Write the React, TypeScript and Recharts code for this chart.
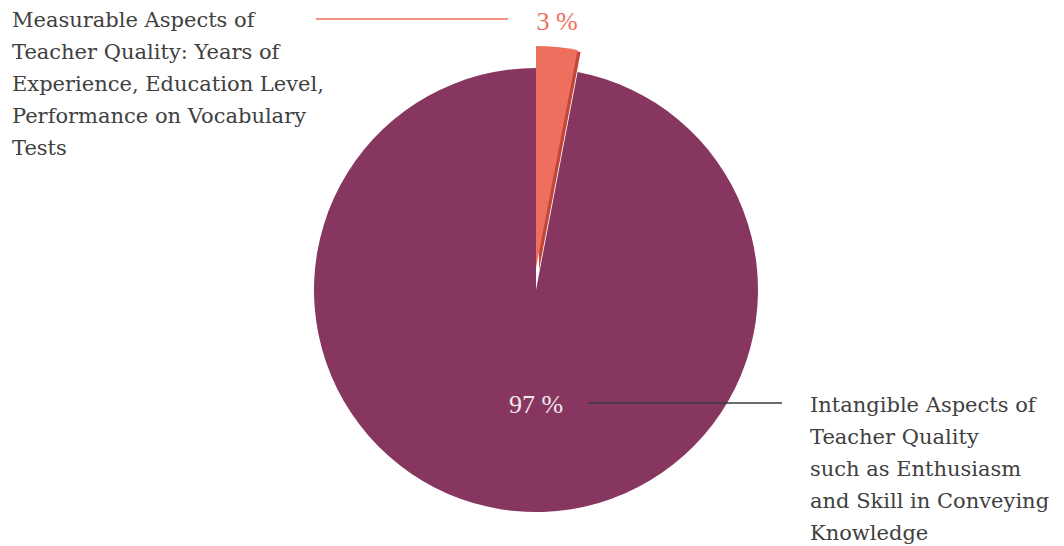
import React from "react";
import { PieChart, Pie, Cell } from "recharts";

const categories = [
  "Measurable Aspects of Teacher Quality: Years of Experience, Education Level, Performance on Vocabulary Tests",
  "Intangible Aspects of Teacher Quality such as Enthusiasm and Skill in Conveying Knowledge",
];
const values = [3, 97];
const valueLabels = ["3 %", "97 %"];
const labelLines: string[][] = [
  ["Measurable Aspects of", "Teacher Quality: Years of", "Experience, Education Level,", "Performance on Vocabulary", "Tests"],
  ["Intangible Aspects of", "Teacher Quality", "such as Enthusiasm", "and Skill in Conveying", "Knowledge"],
];
const colors = ["#ee6f5d", "#873660"];
const edgeColor = "#c2473a";

const data = categories.map((name, i) => ({ name, value: values[i] }));

const W = 1064;
const H = 546;
const CX = 536;
const CY = 290;
const R = 222;
const FONT = "DejaVu Serif";
const VFONT = "Liberation Serif";

const renderLabels = (props: any) => {
  const { index, cx, cy } = props;
  if (index === 0) {
    return (
      <g>
        <line x1={cx - 220} y1={19} x2={cx - 28} y2={19} stroke={colors[0]} strokeWidth={1.5} />
        <text x={cx + 21} y={21} textAnchor="middle" dominantBaseline="central" fill={colors[0]} fontFamily={VFONT} fontSize={26}>
          {valueLabels[0]}
        </text>
        {labelLines[0].map((l, k) => (
          <text key={k} x={12} y={20 + k * 32} dominantBaseline="central" fill="#404040" fontFamily={FONT} fontSize={21}>
            {l}
          </text>
        ))}
      </g>
    );
  }
  return (
    <g>
      <text x={cx} y={cy + 114} textAnchor="middle" dominantBaseline="central" fill="#f3e6ec" fontFamily={VFONT} fontSize={26}>
        {valueLabels[1]}
      </text>
      <line x1={cx + 52} y1={cy + 113} x2={cx + 246} y2={cy + 113} stroke="#3a3a3a" strokeWidth={1.5} />
      {labelLines[1].map((l, k) => (
        <text key={k} x={810} y={cy + 115 + k * 32} dominantBaseline="central" fill="#404040" fontFamily={FONT} fontSize={21}>
          {l}
        </text>
      ))}
    </g>
  );
};

export default function App() {
  return (
    <div style={{ position: "absolute", left: 0, top: 0, width: W, height: H, background: "#fff" }}>
      <PieChart width={W} height={H} margin={{ top: 0, right: 0, bottom: 0, left: 0 }}>
        {/* main pie with large slice */}
        <Pie
          data={data}
          dataKey="value"
          cx={CX}
          cy={CY}
          outerRadius={R}
          startAngle={90}
          endAngle={-270}
          stroke="none"
          isAnimationActive={false}
          label={renderLabels}
          labelLine={false}
        >
          {data.map((d, i) => (
            <Cell key={i} fill={i === 1 ? colors[1] : "transparent"} />
          ))}
        </Pie>
        {/* darker edge of exploded slice */}
        <Pie
          data={data}
          dataKey="value"
          cx={CX + 3}
          cy={CY - 20}
          outerRadius={R}
          startAngle={90}
          endAngle={-270}
          stroke="none"
          isAnimationActive={false}
        >
          {data.map((d, i) => (
            <Cell key={i} fill={i === 0 ? edgeColor : "transparent"} />
          ))}
        </Pie>
        {/* exploded small slice */}
        <Pie
          data={data}
          dataKey="value"
          cx={CX}
          cy={CY - 22}
          outerRadius={R}
          startAngle={90}
          endAngle={-270}
          stroke="none"
          isAnimationActive={false}
        >
          {data.map((d, i) => (
            <Cell key={i} fill={i === 0 ? colors[0] : "transparent"} />
          ))}
        </Pie>
      </PieChart>
    </div>
  );
}
